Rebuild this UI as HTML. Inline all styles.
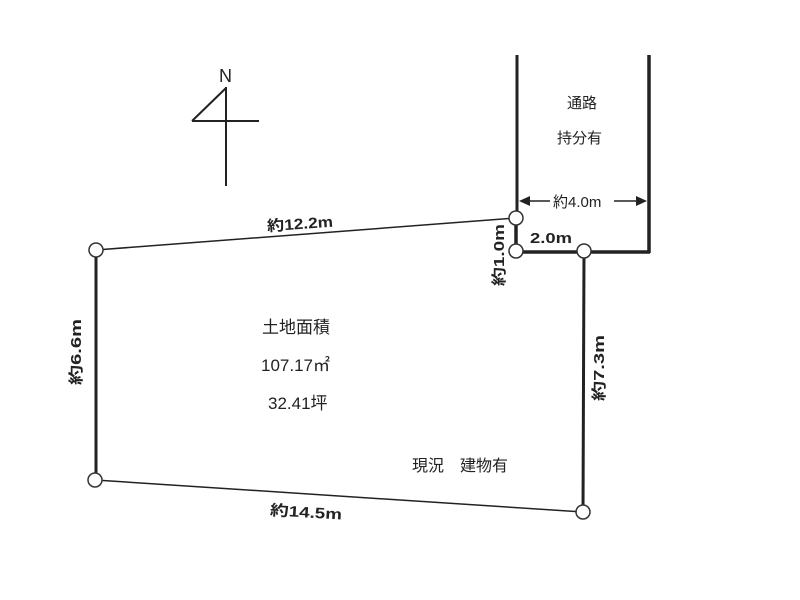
<!DOCTYPE html>
<html><head><meta charset="utf-8"><style>body{margin:0;background:#fff}svg{display:block}text{font-family:"Liberation Sans","Noto Sans CJK JP",sans-serif;fill:#222}</style></head><body>
<svg width="800" height="600" viewBox="0 0 800 600">
<g stroke="#222" fill="none">
<line x1="226" y1="87" x2="226" y2="186" stroke-width="2"/>
<line x1="192" y1="121" x2="259" y2="121" stroke-width="2"/>
<line x1="192" y1="121" x2="226" y2="88" stroke-width="2"/>
<line x1="517" y1="55" x2="517" y2="218" stroke-width="3"/>
<line x1="649" y1="55" x2="649" y2="253" stroke-width="3.5"/>
<line x1="516" y1="252" x2="650" y2="252" stroke-width="3.5"/>
<line x1="516" y1="218" x2="516" y2="251" stroke-width="3.5"/>
<line x1="96" y1="250" x2="96" y2="480" stroke-width="3"/>
<line x1="584" y1="251" x2="583" y2="512" stroke-width="3"/>
<line x1="96" y1="250" x2="516" y2="218" stroke-width="1.5"/>
<line x1="95" y1="480" x2="583" y2="512" stroke-width="1.5"/>
<line x1="528" y1="201" x2="550" y2="201" stroke-width="1.5"/>
<line x1="614" y1="201" x2="638" y2="201" stroke-width="1.5"/>
</g>
<polygon points="519,201 530,196 530,206" fill="#222"/>
<polygon points="647,201 636,196 636,206" fill="#222"/>
<g fill="#fff" stroke="#333" stroke-width="1.5">
<circle cx="96" cy="250" r="7"/><circle cx="516" cy="218" r="7"/><circle cx="516" cy="251" r="7"/>
<circle cx="584" cy="251" r="7"/><circle cx="583" cy="512" r="7"/><circle cx="95" cy="480" r="7"/>
</g>
<text x="219" y="82" font-size="18">N</text>
<text x="567" y="108" font-size="15">通路</text>
<text x="557" y="143" font-size="15">持分有</text>
<text x="553" y="207" font-size="15">約4.0m</text>
<text x="530" y="243" font-size="15" font-weight="bold" textLength="42" lengthAdjust="spacingAndGlyphs">2.0m</text>
<text x="267" y="229" font-size="15" font-weight="bold" textLength="66" lengthAdjust="spacingAndGlyphs" transform="rotate(-4 300 224)">約12.2m</text>
<text x="270" y="517" font-size="15" font-weight="bold" textLength="72" lengthAdjust="spacingAndGlyphs" transform="rotate(3.5 300 512)">約14.5m</text>
<text font-size="15" font-weight="bold" textLength="62" lengthAdjust="spacingAndGlyphs" transform="translate(504 286) rotate(-90)">約1.0m</text>
<text font-size="15" font-weight="bold" textLength="66" lengthAdjust="spacingAndGlyphs" transform="translate(81 385) rotate(-90)">約6.6m</text>
<text font-size="15" font-weight="bold" textLength="66" lengthAdjust="spacingAndGlyphs" transform="translate(604 401) rotate(-90)">約7.3m</text>
<text x="262" y="333" font-size="17">土地面積</text>
<text x="261" y="371" font-size="17">107.17㎡</text>
<text x="268" y="409" font-size="17">32.41坪</text>
<text x="412" y="471" font-size="16">現況　建物有</text>
</svg>
</body></html>
